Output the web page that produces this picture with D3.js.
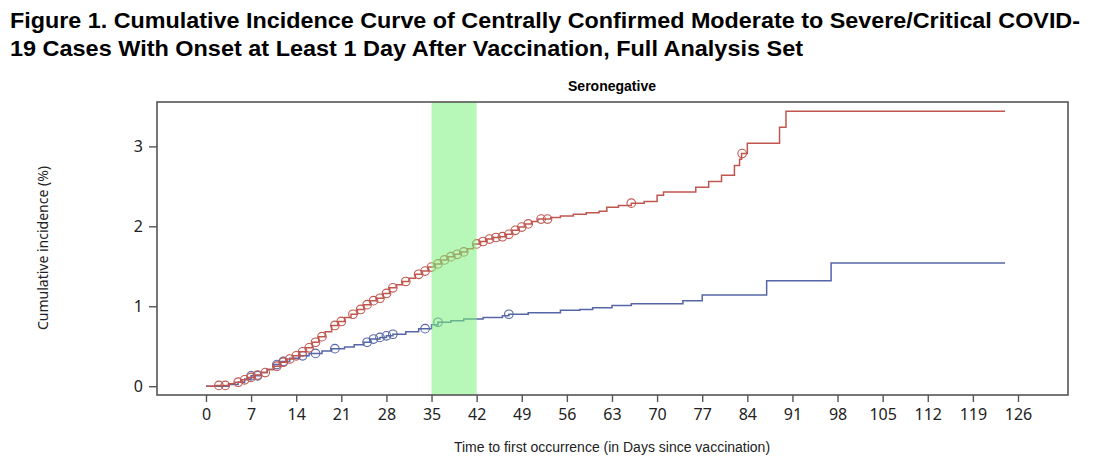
<!DOCTYPE html>
<html>
<head>
<meta charset="utf-8">
<script src="https://cdn.jsdelivr.net/npm/d3@7"></script>
<style>
  body { margin: 0; background: #fff; }
  svg { display: block; }
</style>
</head>
<body>
<svg id="chart" width="1101" height="471"></svg>
<script>
// ---- data ----
// step curves: [day, cumulative incidence %] from that day on
const redSteps = [
  [0, 0], [1.5, 0.01], [3.5, 0.03], [4.5, 0.05], [5.5, 0.08], [6.5, 0.11], [7.5, 0.14],
  [8.5, 0.17], [9.5, 0.21], [10.5, 0.25], [11.5, 0.3], [12.5, 0.34], [13.5, 0.38],
  [14.5, 0.43], [15.5, 0.48], [16.5, 0.55], [17.5, 0.62], [18.5, 0.68], [19.5, 0.76],
  [20.5, 0.81], [21.5, 0.86], [22.5, 0.9], [23.5, 0.96], [24.5, 1.02], [25.5, 1.07],
  [26.5, 1.1], [27.5, 1.16], [28.5, 1.23], [29.5, 1.27], [30.5, 1.31], [31.5, 1.35],
  [32.5, 1.4], [33.5, 1.44], [34.5, 1.49], [35.5, 1.53], [36.5, 1.58], [37.5, 1.62],
  [38.5, 1.65], [39.5, 1.68], [40.5, 1.72], [41.5, 1.78], [42.5, 1.81], [43.5, 1.84],
  [44.5, 1.86], [45.5, 1.87], [46.5, 1.9], [47.5, 1.95], [48.5, 1.99], [49.5, 2.03],
  [50.5, 2.06], [51.5, 2.09], [53.5, 2.11], [55, 2.13], [57, 2.15], [59, 2.17],
  [61, 2.19], [62.2, 2.24], [64, 2.26], [66, 2.29], [68, 2.31], [70, 2.39], [71, 2.43],
  [76, 2.49], [78, 2.56], [80, 2.64], [82, 2.76], [82.8, 2.84], [83.1, 2.91], [84, 3.04],
  [89, 3.24], [90, 3.44]
];
const redEnd = 124;
const redCensored = [2, 3, 5, 6, 7, 8, 9.2, 11, 12, 13, 14, 15, 16, 17, 18, 20, 21, 22.8,
  24, 25, 26, 27, 28, 29, 31, 33, 34, 35, 36, 37, 38, 39, 40, 42, 43, 44, 45, 46, 47,
  48, 49, 50, 52, 53, 66, 83.2];

const blueSteps = [
  [0, 0], [3.5, 0.02], [5, 0.05], [6, 0.09], [7, 0.13], [8.5, 0.17], [9.5, 0.21],
  [10.5, 0.27], [11.5, 0.31], [13, 0.35], [14.5, 0.38], [16, 0.41], [18, 0.44],
  [19.5, 0.47], [21.5, 0.49], [23, 0.52], [24.5, 0.55], [25.5, 0.59], [27, 0.61],
  [28, 0.63], [29, 0.65], [31, 0.68], [33, 0.72], [35, 0.77], [36, 0.8], [38, 0.82],
  [40, 0.84], [43, 0.86], [46, 0.88], [47, 0.9], [50, 0.92], [55, 0.95], [58, 0.96],
  [60, 0.98], [63, 1.01], [66, 1.03], [74, 1.07], [77, 1.14], [87, 1.32], [97, 1.54]
];
const blueEnd = 124;
const blueCensored = [7, 8, 11, 12, 15, 17, 20, 25, 26, 27, 28, 29, 34, 36, 47];

const band = [35, 42];
const xTicks = d3.range(0, 127, 7);
const yTicks = [0, 1, 2, 3];

const titleLines = [
  "Figure 1. Cumulative Incidence Curve of Centrally Confirmed Moderate to Severe/Critical COVID-",
  "19 Cases With Onset at Least 1 Day After Vaccination, Full Analysis Set"
];
const panelTitle = "Seronegative";
const xTitle = "Time to first occurrence (in Days since vaccination)";
const yTitle = "Cumulative incidence (%)";

// ---- layout ----
const svg = d3.select("#chart");
const plot = { left: 157, right: 1068, top: 102, bottom: 395 };

const x = d3.scaleLinear().domain([-7.6, 133.76]).range([plot.left, plot.right]);
const y = d3.scaleLinear().domain([-0.11, 3.555]).range([plot.bottom, plot.top]);

const red = "#c0574f", blue = "#5566a6";

// title (bold, squeezed to the original width)
svg.selectAll("text.title")
  .data(titleLines)
  .join("text")
  .attr("class", "title")
  .attr("x", 10)
  .attr("y", (d, i) => 28 + i * 28)
  .attr("textLength", (d, i) => i === 0 ? 1070 : 793)
  .attr("lengthAdjust", "spacingAndGlyphs")
  .style("font-family", "Liberation Sans, Arial, sans-serif")
  .style("font-weight", "bold")
  .style("font-size", "22px")
  .attr("fill", "#000")
  .text(d => d);

svg.append("text")
  .attr("x", 612)
  .attr("y", 91)
  .attr("text-anchor", "middle")
  .style("font-family", "Liberation Sans, Arial, sans-serif")
  .style("font-weight", "bold")
  .style("font-size", "14px")
  .text(panelTitle);

// step path helper
function stepPath(steps, end) {
  const pts = steps.concat([[end, steps[steps.length - 1][1]]]);
  return d3.line()
    .x(d => x(d[0]))
    .y(d => y(d[1]))
    .curve(d3.curveStepAfter)(pts);
}
function valueAt(steps, day) {
  let v = 0;
  steps.forEach(s => { if (s[0] <= day) v = s[1]; });
  return v;
}

const g = svg.append("g");

[[blueSteps, blueEnd, blueCensored, blue], [redSteps, redEnd, redCensored, red]]
  .forEach(([steps, end, cens, col]) => {
    g.append("path")
      .attr("d", stepPath(steps, end))
      .attr("fill", "none")
      .attr("stroke", col)
      .attr("stroke-width", 1.5);
    g.selectAll(null)
      .data(cens)
      .join("circle")
      .attr("cx", d => x(d))
      .attr("cy", d => y(valueAt(steps, d)))
      .attr("r", 4.3)
      .attr("fill", "none")
      .attr("stroke", col)
      .attr("stroke-width", 1.1);
  });

// green reference band, drawn over the curves
svg.append("rect")
  .attr("x", x(band[0]))
  .attr("y", plot.top)
  .attr("width", x(band[1]) - x(band[0]))
  .attr("height", plot.bottom - plot.top)
  .attr("fill", "#7cf07c")
  .attr("opacity", 0.55);

// frame
svg.append("rect")
  .attr("x", plot.left)
  .attr("y", plot.top)
  .attr("width", plot.right - plot.left)
  .attr("height", plot.bottom - plot.top)
  .attr("fill", "none")
  .attr("stroke", "#555")
  .attr("stroke-width", 1.6);

// axes
const xAxis = svg.append("g")
  .attr("transform", `translate(0,${plot.bottom})`)
  .call(d3.axisBottom(x).tickValues(xTicks).tickFormat(d3.format("d")).tickSize(7).tickPadding(7));
const yAxis = svg.append("g")
  .attr("transform", `translate(${plot.left},0)`)
  .call(d3.axisLeft(y).tickValues(yTicks).tickFormat(d3.format("d")).tickSize(8).tickPadding(6));

[xAxis, yAxis].forEach(a => {
  a.select(".domain").remove();
  a.selectAll(".tick line").attr("stroke", "#555").attr("stroke-width", 1.4);
  a.selectAll(".tick text")
    .attr("fill", "#222")
    .style("font-family", "Noto Sans, Open Sans, sans-serif")
    .style("font-size", "16px");
});

svg.append("text")
  .attr("x", 612)
  .attr("y", 452)
  .attr("text-anchor", "middle")
  .attr("fill", "#222")
  .style("font-family", "Liberation Sans, Arial, sans-serif")
  .style("font-size", "14px")
  .text(xTitle);

svg.append("text")
  .attr("transform", "translate(48,248) rotate(-90)")
  .attr("text-anchor", "middle")
  .attr("fill", "#222")
  .style("font-family", "Noto Sans, Open Sans, sans-serif")
  .style("font-size", "14px")
  .text(yTitle);
</script>
</body>
</html>
